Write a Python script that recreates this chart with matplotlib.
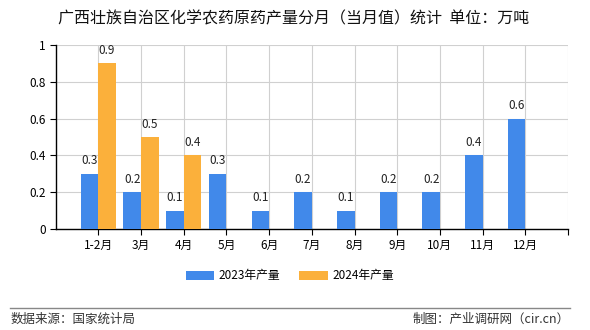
import matplotlib
matplotlib.use("Agg")
import matplotlib.pyplot as plt
from matplotlib.lines import Line2D

plt.rcParams['font.family'] = ['Noto Sans CJK SC', 'DejaVu Sans']

categories = ['1-2月', '3月', '4月', '5月', '6月', '7月', '8月', '9月', '10月', '11月', '12月']
values_2023 = [0.3, 0.2, 0.1, 0.3, 0.1, 0.2, 0.1, 0.2, 0.2, 0.4, 0.6]
values_2024 = [0.9, 0.5, 0.4]
series_names = ['2023年产量', '2024年产量']
yticks = [0, 0.2, 0.4, 0.6, 0.8, 1]
ytick_labels = ['0', '0.2', '0.4', '0.6', '0.8', '1']

c2023 = '#4189ea'
c2024 = '#fbb03b'

fig = plt.figure(figsize=(5.9, 3.3), dpi=100)
ax = fig.add_axes([55.6/590, 1 - 229/330, (568-55.6)/590, (229-45)/330])

w = 0.41
x23 = [i + 1 - w/2 for i in range(len(values_2023))]
x24 = [i + 1 + w/2 for i in range(len(values_2024))]
b1 = ax.bar(x23, values_2023, width=w, color=c2023, zorder=3, label=series_names[0])
b2 = ax.bar(x24, values_2024, width=w, color=c2024, zorder=3, label=series_names[1])

for x, v in zip(x23, values_2023):
    ax.text(x, v + 0.035, f'{v:g}', ha='center', va='bottom', fontsize=8.5, color='#222222')
for x, v in zip(x24, values_2024):
    ax.text(x, v + 0.035, f'{v:g}', ha='center', va='bottom', fontsize=8.5, color='#222222')

ax.set_xlim(0, 12)
ax.set_ylim(0, 1)
ax.set_yticks(yticks)
ax.set_yticklabels(ytick_labels, fontsize=8.5)
ax.set_xticks(list(range(1, 13)))
ax.set_xticklabels(categories + [''], fontsize=8.5)
ax.tick_params(axis='both', length=4, width=0.8, color='black', pad=3)
ax.grid(True, color='#d0d0d0', linewidth=0.8, zorder=0)
ax.set_axisbelow(True)
for s in ['top', 'right']:
    ax.spines[s].set_visible(False)
ax.spines['left'].set_color('black')
ax.spines['bottom'].set_color('black')
ax.spines['left'].set_linewidth(1)
ax.spines['bottom'].set_linewidth(1)

fig.text(294/590, 1 - 19/330, '广西壮族自治区化学农药原药产量分月（当月值）统计  单位：万吨',
         ha='center', va='center', fontsize=11.5, color='#111111')

leg = fig.legend(handles=[b1, b2], labels=series_names, loc='center',
                 bbox_to_anchor=(290/590, 1 - 276/330), ncol=2, frameon=False,
                 fontsize=8.5, handlelength=2.4, handleheight=0.9, columnspacing=1.6,
                 handletextpad=0.4)

fig.add_artist(Line2D([10/590, 570/590], [1 - 308/330, 1 - 308/330],
                      color='#888888', linewidth=1, transform=fig.transFigure))
fig.text(11/590, 1 - 319/330, '数据来源：国家统计局', ha='left', va='center', fontsize=9, color='#333333')
fig.text(570/590, 1 - 319/330, '制图：产业调研网（cir.cn）', ha='right', va='center', fontsize=9, color='#333333')

fig.savefig('out.png', dpi=100)
